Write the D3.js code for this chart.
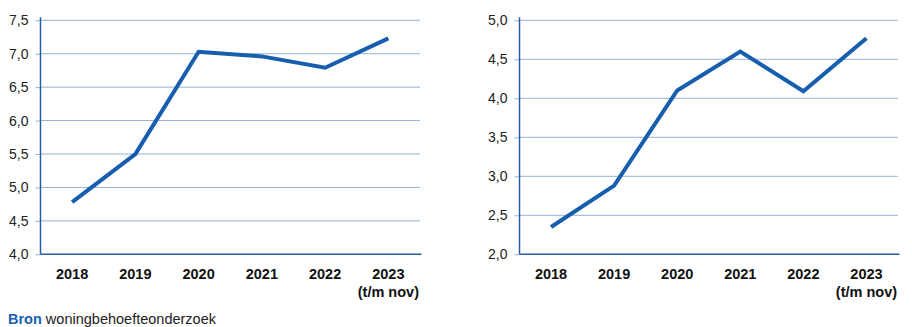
<!DOCTYPE html>
<html>
<head>
<meta charset="utf-8">
<script src="https://cdn.jsdelivr.net/npm/d3@7/dist/d3.min.js"></script>
<style>
  body { margin: 0; background: #fff; }
  svg { display: block; font-family: 'Liberation Sans', Arial, sans-serif; }
</style>
</head>
<body>
<svg id="chart" width="912" height="327"></svg>
<script>
const years = ['2018', '2019', '2020', '2021', '2022', '2023'];
const leftValues = [4.78, 5.5, 7.03, 6.96, 6.79, 7.23];
const rightValues = [2.35, 2.88, 4.1, 4.6, 4.09, 4.77];
const leftTicks = [4.0, 4.5, 5.0, 5.5, 6.0, 6.5, 7.0, 7.5];
const rightTicks = [2.0, 2.5, 3.0, 3.5, 4.0, 4.5, 5.0];

const lineColor = '#175eae';
const gridColor = '#93b2d9';
const axisColor = '#2a5d9c';
const fmt = d => d3.format('.1f')(d).replace('.', ',');

const svg = d3.select('#chart');

function drawPanel(x0, x1, values, ticks) {
    const top = 20.3;
    const bottom = 254.3;

    const x = d3.scalePoint()
        .domain(years)
        .range([x0, x1])
        .padding(0.5);

    const y = d3.scaleLinear()
        .domain([ticks[0], ticks[ticks.length - 1]])
        .range([bottom, top]);

    const g = svg.append('g');

    // horizontal gridlines
    g.append('g')
        .selectAll('line')
        .data(ticks.slice(1))
        .enter()
        .append('line')
        .attr('x1', x0)
        .attr('x2', x1)
        .attr('y1', d => y(d))
        .attr('y2', d => y(d))
        .attr('stroke', gridColor)
        .attr('stroke-width', 1);

    const yAxis = g.append('g')
        .attr('transform', `translate(${x0},0)`)
        .call(d3.axisLeft(y).tickValues(ticks).tickFormat(fmt).tickSize(5).tickPadding(7));
    yAxis.select('.domain').remove();
    yAxis.selectAll('.tick line').attr('stroke', gridColor);
    yAxis.selectAll('.tick text')
        .attr('fill', '#222')
        .style('font-size', '14px');

    // axis frame: left and bottom
    g.append('line')
        .attr('x1', x0).attr('x2', x0)
        .attr('y1', top - 3).attr('y2', bottom)
        .attr('stroke', axisColor)
        .attr('stroke-width', 1.5);
    g.append('line')
        .attr('x1', x0).attr('x2', x1 + 1.5)
        .attr('y1', bottom).attr('y2', bottom)
        .attr('stroke', axisColor)
        .attr('stroke-width', 1.5);

    g.append('g')
        .selectAll('text')
        .data(years)
        .enter()
        .append('text')
        .attr('x', d => x(d))
        .attr('y', 279)
        .attr('text-anchor', 'middle')
        .attr('fill', '#111')
        .style('font-size', '14.5px')
        .style('font-weight', 'bold')
        .text(d => d);

    g.append('text')
        .attr('x', x(years[years.length - 1]))
        .attr('y', 297)
        .attr('text-anchor', 'middle')
        .attr('fill', '#111')
        .style('font-size', '14.5px')
        .style('font-weight', 'bold')
        .text('(t/m nov)');

    const line = d3.line()
        .x((d, i) => x(years[i]))
        .y(d => y(d));

    g.append('path')
        .datum(values)
        .attr('d', line)
        .attr('fill', 'none')
        .attr('stroke', lineColor)
        .attr('stroke-width', 4)
        .attr('stroke-linejoin', 'miter');
}

drawPanel(40.5, 420, leftValues, leftTicks);
drawPanel(519.5, 898, rightValues, rightTicks);

const source = svg.append('text')
    .attr('x', 8)
    .attr('y', 324)
    .style('font-size', '14.5px');
source.append('tspan')
    .attr('fill', '#175eae')
    .style('font-weight', 'bold')
    .text('Bron');
source.append('tspan')
    .attr('fill', '#222')
    .text(' woningbehoefteonderzoek');
</script>
</body>
</html>
